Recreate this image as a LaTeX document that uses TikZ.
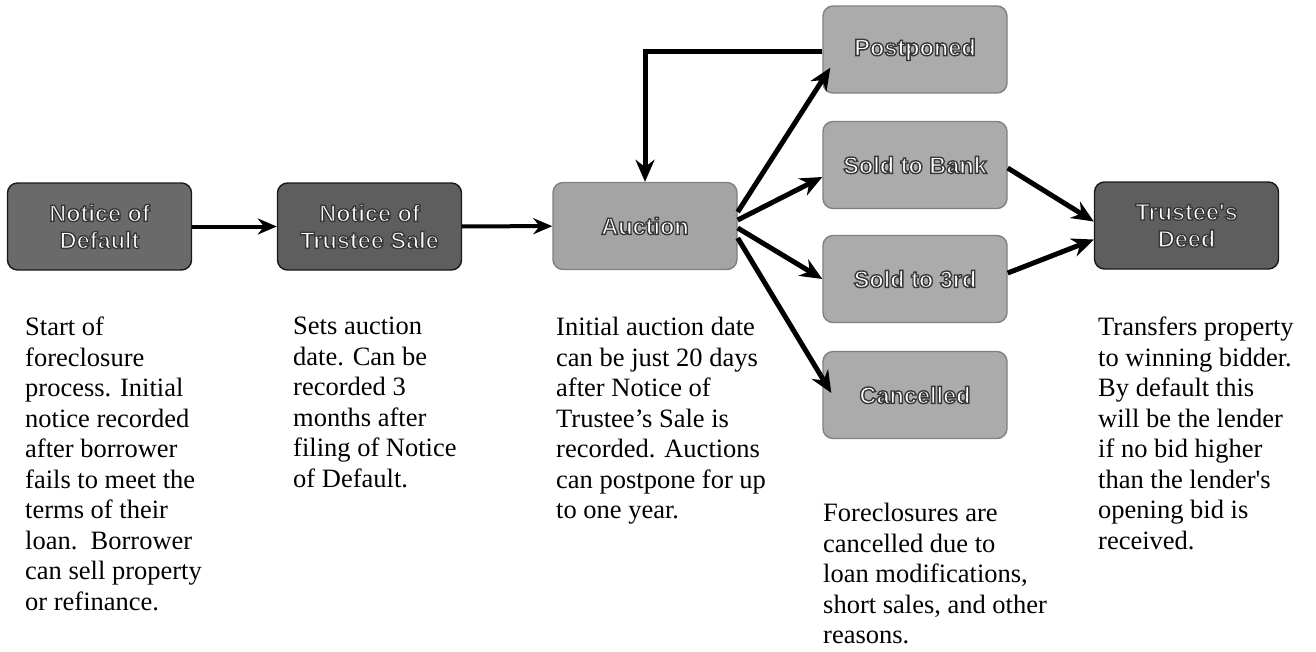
\documentclass[tikz,border=0pt]{standalone}
\usepackage{fontspec}
\setmainfont{Liberation Serif}
\newfontfamily\labfont{Liberation Sans}
\usetikzlibrary{arrows.meta,calc}
\definecolor{darkbox}{HTML}{6A6A6A}
\definecolor{darkerbox}{HTML}{5E5E5E}
\definecolor{lightbox}{HTML}{ABABAB}
\definecolor{auctbox}{HTML}{A4A4A4}
\newcommand\outl[1]{\special{pdf:literal direct 2 Tr 0.22 0.22 0.22 RG 1.4 w}#1\special{pdf:literal direct 0 Tr}}
\tikzset{
  stagebox/.style={rectangle, rounded corners=10pt, minimum width=184pt, minimum height=87pt,
    line width=1.4pt, text=white, align=center, inner sep=0pt,
    font=\labfont\bfseries\fontsize{23.5}{27}\selectfont},
  darkstage/.style={stagebox, fill=darkbox, draw=black!90},
  lightstage/.style={stagebox, fill=lightbox, draw=black!50},
  desc/.style={anchor=north west, align=left, inner sep=0pt,
    font=\fontsize{26.5}{30.5}\selectfont},
  flow/.style={line width=4pt, -{Stealth[length=19pt,width=16pt]}},
  fan/.style={line width=5pt, -{Stealth[length=22pt,width=19pt]}},
}
\begin{document}
\begin{tikzpicture}[x=1pt,y=-1pt]
\useasboundingbox (0,0) rectangle (1316,651);
% boxes
\node[darkstage] (nod) at (99.5,226.5) {\outl{Notice of}\\\outl{Default}};
\node[darkstage, fill=darkerbox] (nots) at (369.5,226.5) {\outl{Notice of}\\\outl{Trustee Sale}};
\node[lightstage, fill=auctbox] (auc) at (645,226) {\outl{Auction}};
\node[lightstage] (post) at (915,49.5) {\outl{Postponed}};
\node[lightstage] (bank) at (915,165) {\outl{Sold to Bank}};
\node[lightstage] (third) at (915,279) {\outl{Sold to 3rd}};
\node[lightstage] (canc) at (915,395) {\outl{Cancelled}};
\node[darkstage, fill=darkerbox] (deed) at (1186.5,225.5) {\outl{Trustee\textquotesingle s}\\\outl{Deed}};
% connectors
\draw[flow] (nod) -- (nots);
\draw[flow] (nots) -- (auc);
\draw[fan] ($(post.west)+(0,1.5)$) -| (auc.north);
\draw[fan] ($(auc.east)+(0,-14)$) -- ($(post.south west)+(8,-26)$);
\draw[fan] ($(auc.east)+(0,-6)$) -- ($(bank.west)+(0,12)$);
\draw[fan] ($(auc.east)+(0,2)$) -- (third.west);
\draw[fan] ($(auc.east)+(0,12)$) -- ($(canc.west)+(9,-2)$);
\draw[fan] ($(bank.east)+(0,3)$) -- ($(deed.west)+(0,-4)$);
\draw[fan] ($(third.east)+(0,-6)$) -- ($(deed.west)+(0,14)$);
% descriptions
\node[desc] (t1) at (25,317) {Start of\\foreclosure\\process. Initial\\notice recorded\\after borrower\\fails to meet the\\terms of their\\loan.\ \ Borrower\\can sell property\\or refinance.};
\node[desc] (t2) at (293,317) {Sets auction\\date. Can be\\recorded 3\\months after\\filing of Notice\\of Default.};
\node[desc] (t3) at (556,317) {Initial auction date\\can be just 20 days\\after Notice of\\Trustee’s Sale is\\recorded. Auctions\\can postpone for up\\to one year.};
\node[desc] (t4) at (823,503) {Foreclosures are\\cancelled due to\\loan modifications,\\short sales, and other\\reasons.};
\node[desc] (t5) at (1098,317) {Transfers property\\to winning bidder.\\By default this\\will be the lender\\if no bid higher\\than the lender\textquotesingle s\\opening bid is\\received.};
\end{tikzpicture}
\end{document}
